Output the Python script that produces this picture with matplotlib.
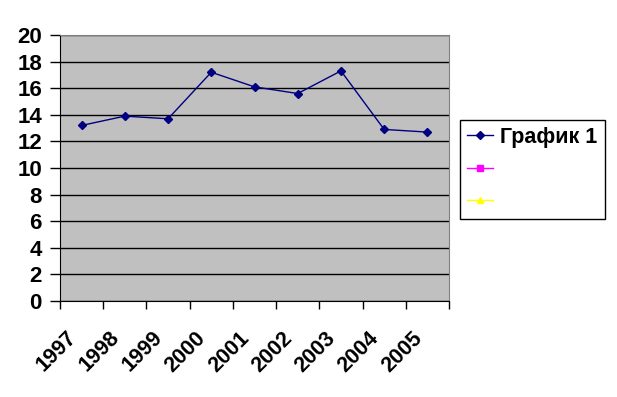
import matplotlib.pyplot as plt
import matplotlib.transforms as mtransforms

years = ['1997', '1998', '1999', '2000', '2001', '2002', '2003', '2004', '2005']
series1 = [13.2, 13.9, 13.7, 17.2, 16.1, 15.6, 17.3, 12.9, 12.7]
series2 = []
series3 = []
legend_labels = ['График 1', '', '']

plt.rcParams['font.family'] = ['Liberation Sans', 'DejaVu Sans']
plt.rcParams['font.weight'] = 'bold'

fig = plt.figure(figsize=(6.17, 3.97), dpi=100)
ax = fig.add_axes([60 / 617, 1 - 301 / 397, 389 / 617, 266 / 397])
ax.set_facecolor('#c0c0c0')

x = list(range(len(years)))
l1, = ax.plot(x, series1, color='#000080', lw=1, marker='D', markersize=4)
l2, = ax.plot(series2, series2, color='#ff00ff', lw=1, marker='s', markersize=5)
l3, = ax.plot(series3, series3, color='#ffff00', lw=1, marker='^', markersize=5)

ax.set_xlim(-0.5, len(years) - 0.5)
ax.set_ylim(0, 20)
ax.set_yticks(range(0, 21, 2))
ax.yaxis.grid(True, color='black', lw=1)
ax.set_axisbelow(True)

ax.set_xticks(x)
ax.set_xticklabels(years, rotation=45, ha='right', va='top', rotation_mode='anchor')
ax.set_xticks([i - 0.5 for i in range(len(years) + 1)], minor=True)
ax.tick_params(axis='x', which='major', length=0, pad=19, labelsize=15.5)
ax.tick_params(axis='x', which='minor', length=6, width=1, color='black')
ax.tick_params(axis='y', length=7, width=1, labelsize=16, pad=6)
shift = mtransforms.ScaledTranslation(-16 / 100, 0, fig.dpi_scale_trans)
for lab in ax.get_xticklabels():
    lab.set_transform(lab.get_transform() + shift)

ax.spines['top'].set_color('#808080')
ax.spines['right'].set_color('#808080')
ax.spines['left'].set_color('black')
ax.spines['bottom'].set_color('black')

leg = fig.legend([l1, l2, l3], legend_labels, loc='upper left',
                 bbox_to_anchor=(460 / 617, 1 - 120 / 397), fontsize=15.5,
                 frameon=True, fancybox=False, framealpha=1, edgecolor='black',
                 handlelength=1.2, labelspacing=0.52, borderpad=0.32,
                 handletextpad=0.36, borderaxespad=0)
leg.get_frame().set_linewidth(1)

fig.savefig('out.png', dpi=100)
